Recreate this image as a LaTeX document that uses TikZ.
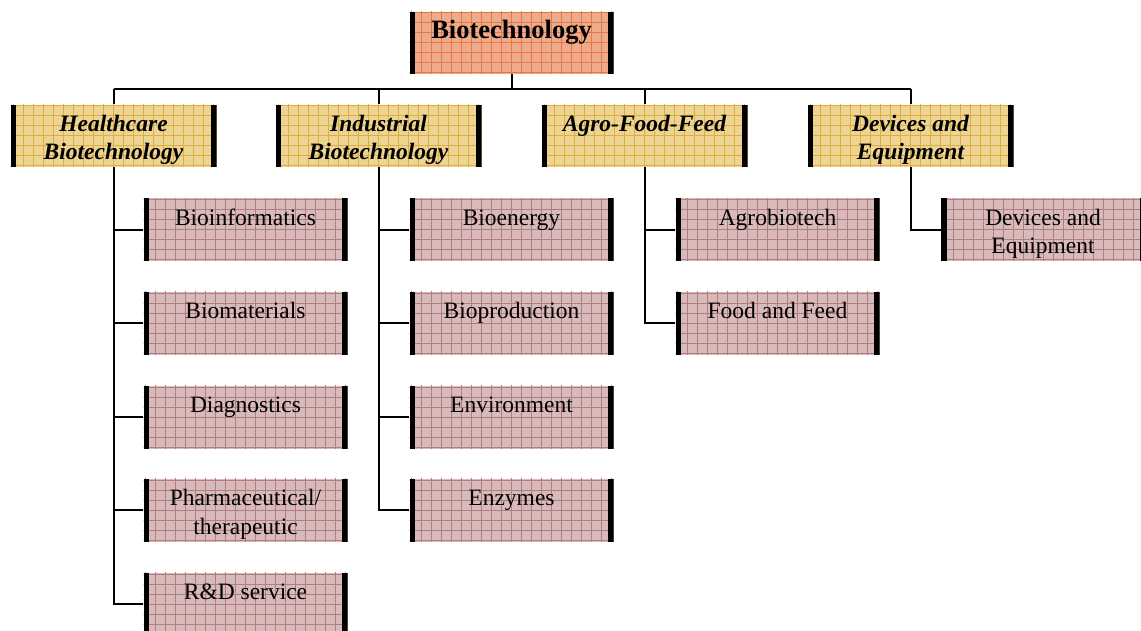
\documentclass[tikz,border=0pt]{standalone}
\usepackage{fontspec}
\setmainfont{Liberation Serif}
\definecolor{topfill}{HTML}{EEAA8A}
\definecolor{topline}{HTML}{E27A48}
\definecolor{catfill}{HTML}{EDD591}
\definecolor{catline}{HTML}{DDAE48}
\definecolor{subfill}{HTML}{D8BABA}
\definecolor{subline}{HTML}{B07E7E}
\tikzset{
  gridbox/.style 2 args={fill=#1, draw=none, inner sep=0pt,
    path picture={
      \draw[#2, line width=0.7pt]
        ([shift={(-3pt,3pt)}]path picture bounding box.north west)
        grid[step=10pt] (path picture bounding box.south east);
      \fill[black] (path picture bounding box.north west)
        rectangle ([xshift=5.5pt]path picture bounding box.south west);
      \fill[black] (path picture bounding box.north east)
        rectangle ([xshift=-5.5pt]path picture bounding box.south east);
    }},
  topbox/.style={gridbox={topfill}{topline}, minimum width=204pt, minimum height=62pt},
  catbox/.style={gridbox={catfill}{catline}, minimum width=206pt, minimum height=62pt},
  subbox/.style={gridbox={subfill}{subline}, minimum width=204pt, minimum height=63pt},
  toptext/.style={anchor=north, inner sep=0pt, align=center, font=\fontsize{26.5}{30}\selectfont\bfseries},
  cattext/.style={anchor=north, inner sep=0pt, align=center, font=\fontsize{23.5}{28.5}\selectfont\bfseries\itshape},
  subtext/.style={anchor=north, inner sep=0pt, align=center, font=\fontsize{23.5}{28.5}\selectfont},
  conn/.style={draw=black, line width=2pt},
}
\begin{document}
\begin{tikzpicture}[x=1pt,y=-1pt]
\useasboundingbox (0,0) rectangle (1141,630);
% top
\node[topbox] (bt) at (511.5,42.5) {};
\node[toptext] (btt) at ([yshift=-6pt]bt.north) {\strut Biotechnology};
% categories
\node[catbox] (hc) at (113.5,135.5) {};
\node[catbox] (ib) at (378.5,135.5) {};
\node[catbox] (af) at (644.5,135.5) {};
\node[catbox] (de) at (910.5,135.5) {};
\node[cattext] (hct) at ([yshift=-7pt]hc.north) {\strut Healthcare\\Biotechnology};
\node[cattext] (ibt) at ([yshift=-7pt]ib.north) {\strut Industrial\\Biotechnology};
\node[cattext] (aft) at ([yshift=-7pt]af.north) {\strut Agro-Food-Feed};
\node[cattext] (det) at ([yshift=-7pt]de.north) {\strut Devices and\\Equipment};
% healthcare children
\node[subbox] (h1) at (245.5,229.5) {};
\node[subbox] (h2) at (245.5,323) {};
\node[subbox] (h3) at (245.5,417) {};
\node[subbox] (h4) at (245.5,510) {};
\node[subbox] (h5) at (245.5,604) {};
% industrial children
\node[subbox] (i1) at (511.5,229.5) {};
\node[subbox] (i2) at (511.5,323) {};
\node[subbox] (i3) at (511.5,417) {};
\node[subbox] (i4) at (511.5,510) {};
% agro children
\node[subbox] (a1) at (777.5,229.5) {};
\node[subbox] (a2) at (777.5,323) {};
% devices child
\node[subbox] (d1) at (1043,229.5) {};
% texts
\node[subtext] (h1t) at ([yshift=-7.5pt]h1.north) {\strut Bioinformatics};
\node[subtext] (h2t) at ([yshift=-7.5pt]h2.north) {\strut Biomaterials};
\node[subtext] (h3t) at ([yshift=-7.5pt]h3.north) {\strut Diagnostics};
\node[subtext] (h4t) at ([yshift=-7.5pt]h4.north) {\strut Pharmaceutical/\\therapeutic};
\node[subtext] (h5t) at ([yshift=-7.5pt]h5.north) {\strut R\&D service};
\node[subtext] (i1t) at ([yshift=-7.5pt]i1.north) {\strut Bioenergy};
\node[subtext] (i2t) at ([yshift=-7.5pt]i2.north) {\strut Bioproduction};
\node[subtext] (i3t) at ([yshift=-7.5pt]i3.north) {\strut Environment};
\node[subtext] (i4t) at ([yshift=-7.5pt]i4.north) {\strut Enzymes};
\node[subtext] (a1t) at ([yshift=-7.5pt]a1.north) {\strut Agrobiotech};
\node[subtext] (a2t) at ([yshift=-7.5pt]a2.north) {\strut Food and Feed};
\node[subtext] (d1t) at ([yshift=-7.5pt]d1.north) {\strut Devices and\\Equipment};
% bus
\coordinate (bus) at (0,88.5);
\draw[conn] (bt.south) -- (bt.south |- bus);
\draw[conn] (hc.north |- bus) -- (de.north |- bus);
\foreach \c in {hc,ib,af,de} \draw[conn] (\c.north |- bus) -- (\c.north);
% trunks
\draw[conn] (hc.south) |- (h5.west);
\foreach \k in {h1,h2,h3,h4} \draw[conn] (hc.south |- \k.west) -- (\k.west);
\draw[conn] (ib.south) |- (i4.west);
\foreach \k in {i1,i2,i3} \draw[conn] (ib.south |- \k.west) -- (\k.west);
\draw[conn] (af.south) |- (a2.west);
\draw[conn] (af.south |- a1.west) -- (a1.west);
\draw[conn] (de.south) |- (d1.west);
\end{tikzpicture}
\end{document}
